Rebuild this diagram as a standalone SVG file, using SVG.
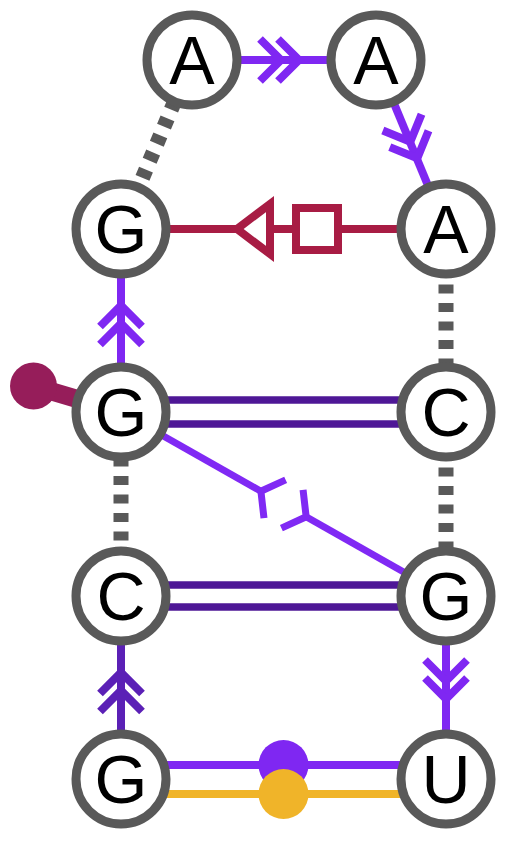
<svg xmlns="http://www.w3.org/2000/svg" width="518" height="850" viewBox="0 0 518 850">
<style>
.node circle{fill:#fff;stroke:#595959;stroke-width:9}
.node text{font-family:"Liberation Sans",Arial,sans-serif;font-size:68px;text-anchor:middle;fill:#000}
.chev{fill:none;stroke-width:8;stroke-linejoin:miter;stroke-miterlimit:10}
.dash{stroke:#595959;stroke-width:15;stroke-dasharray:9 9.5;fill:none}
.bright{stroke:#7f27f2;stroke-width:8;fill:none}
.wc{stroke:#4e1796;stroke-width:7.5;fill:none}
.crim{stroke:#a81c44;stroke-width:8}
</style>
<defs>
<g id="dchev" class="chev"><path d="M-21,-21 L0,0 L-21,21"/><path d="M-39,-21 L-18,0 L-39,21"/></g>
</defs>
<g id="connectors">
  <line class="dash" x1="121" y1="229" x2="192" y2="60"/>
  <line class="dash" x1="446" y1="229" x2="446" y2="412"/>
  <line class="dash" x1="446" y1="412" x2="446" y2="596"/>
  <line class="dash" x1="121" y1="596" x2="121" y2="412"/>

  <line class="bright" x1="192" y1="60" x2="376" y2="60"/>
  <use href="#dchev" transform="translate(299,60)" stroke="#7f27f2"/>
  <line class="bright" x1="376" y1="60" x2="446" y2="229"/>
  <use href="#dchev" transform="translate(417.3,158.3) rotate(67.2)" stroke="#7f27f2"/>
  <line class="bright" x1="121" y1="412" x2="121" y2="229"/>
  <use href="#dchev" transform="translate(121,305.5) rotate(-90)" stroke="#7f27f2"/>
  <line x1="121" y1="779" x2="121" y2="596" stroke="#5b20b6" stroke-width="8"/>
  <use href="#dchev" transform="translate(121,672.5) rotate(-90)" stroke="#5b20b6"/>
  <line class="bright" x1="446" y1="596" x2="446" y2="779"/>
  <use href="#dchev" transform="translate(446,699) rotate(90)" stroke="#7f27f2"/>

  <line class="crim" x1="121" y1="229" x2="446" y2="229"/>
  <polygon class="crim" points="237,229 270,204 270,254" fill="#fff" stroke-linejoin="miter"/>
  <rect class="crim" x="296" y="208" width="42" height="42" fill="#fff"/>

  <line x1="33.5" y1="386" x2="121" y2="412" stroke="#961d5a" stroke-width="18"/>
  <circle cx="33.5" cy="386" r="23.5" fill="#961d5a"/>

  <line class="wc" x1="121" y1="400" x2="446" y2="400"/>
  <line class="wc" x1="121" y1="424" x2="446" y2="424"/>
  <line class="wc" x1="121" y1="585" x2="446" y2="585"/>
  <line class="wc" x1="121" y1="607" x2="446" y2="607"/>

  <line x1="121" y1="412" x2="260.9" y2="491.2" stroke="#8029f4" stroke-width="7"/>
  <line x1="306.1" y1="516.8" x2="446" y2="596" stroke="#8029f4" stroke-width="7"/>
  <g transform="translate(260.9,491.2) rotate(29.5)" fill="none" stroke="#8029f4" stroke-width="7">
    <path d="M16,-22 L0,0 L16,22"/>
    <path d="M36,-22 L52,0 L36,22"/>
  </g>

  <line x1="121" y1="765" x2="446" y2="765" stroke="#7f27f2" stroke-width="8"/>
  <circle cx="283.5" cy="765" r="25" fill="#7f27f2"/>
  <line x1="121" y1="794" x2="446" y2="794" stroke="#f0b429" stroke-width="8"/>
  <circle cx="283.5" cy="794" r="25" fill="#f0b429"/>
</g>
<g id="nA1" class="node"><circle cx="192" cy="60" r="45"/><text x="192" y="84">A</text></g>
<g id="nA2" class="node"><circle cx="376" cy="60" r="45"/><text x="376" y="84">A</text></g>
<g id="nG1" class="node"><circle cx="121" cy="229" r="45"/><text x="121" y="253">G</text></g>
<g id="nA3" class="node"><circle cx="446" cy="229" r="45"/><text x="446" y="253">A</text></g>
<g id="nG2" class="node"><circle cx="121" cy="412" r="45"/><text x="121" y="436">G</text></g>
<g id="nC3" class="node"><circle cx="446" cy="412" r="45"/><text x="446" y="436">C</text></g>
<g id="nC4" class="node"><circle cx="121" cy="596" r="45"/><text x="121" y="620">C</text></g>
<g id="nG4" class="node"><circle cx="446" cy="596" r="45"/><text x="446" y="620">G</text></g>
<g id="nG5" class="node"><circle cx="121" cy="779" r="45"/><text x="121" y="803">G</text></g>
<g id="nU5" class="node"><circle cx="446" cy="779" r="45"/><text x="446" y="803">U</text></g>
</svg>
